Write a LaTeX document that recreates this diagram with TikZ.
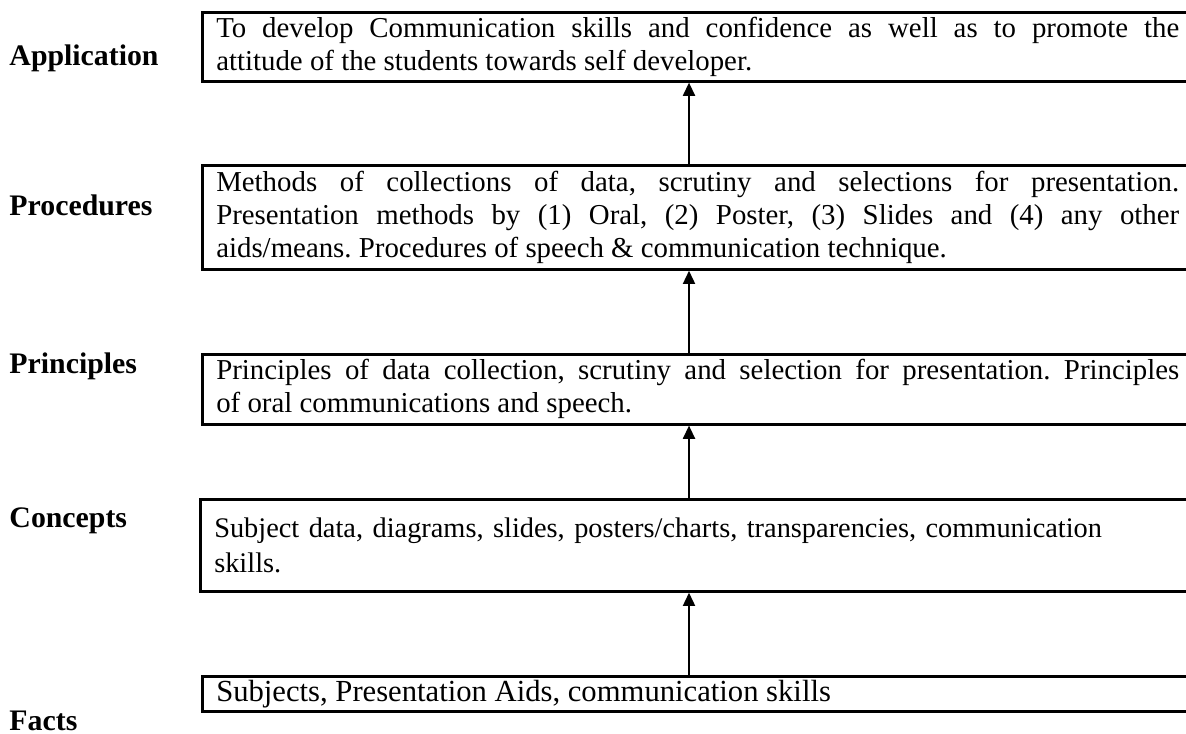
\documentclass[tikz,border=0pt]{standalone}
\usepackage{fontspec}
\setmainfont{Liberation Serif}
\usetikzlibrary{arrows.meta,positioning}
\tikzset{%
  levelbox/.style={rectangle,draw,line width=1.1pt,anchor=north west,text width=400.6pt,
    inner xsep=5.8pt,inner ysep=0pt,align=justify,font=\fontsize{12}{13.8}\selectfont},
  levellabel/.style={anchor=base west,inner sep=0pt,font=\fontsize{12.4}{14}\selectfont\bfseries},
  uparrow/.style={-{Triangle[width=5pt,length=5.5pt]},line width=0.8pt}
}
\frenchspacing
\begin{document}
\begin{tikzpicture}[x=0.416pt,y=-0.416pt]
\useasboundingbox (0,0) rectangle (1186,734);
\clip (0,0) rectangle (1186,734);

% ---- level labels ----
\node[levellabel] (lapp)  at (9,66)  {Application};
\node[levellabel] (lproc) at (9,216) {Procedures};
\node[levellabel] (lprin) at (9,374) {Principles};
\node[levellabel] (lcon)  at (9,527) {Concepts};
\node[levellabel] (lfact) at (9,730) {Facts};

% ---- boxes ----
\node[levelbox,minimum height=28.7pt] (app) at (201,11)
  {To develop Communication skills and confidence as well as to promote the\linebreak
   attitude of the students towards self developer.};
\node[levelbox,minimum height=43.3pt] (proc) at (201,164)
  {Methods of collections of data, scrutiny and selections for presentation.\linebreak
   Presentation methods by (1) Oral, (2) Poster, (3) Slides and (4) any other\linebreak
   aids/means. Procedures of speech \& communication technique.};
\node[levelbox,minimum height=29.1pt] (prin) at (201,353)
  {Principles of data collection, scrutiny and selection for presentation. Principles\linebreak
   of oral communications and speech.};
\node[levelbox,minimum height=38.3pt,align=left,font=\fontsize{11.8}{14.2}\selectfont] (con) at (199,498)
  {Subject data, diagrams, slides, posters/charts, transparencies, communication\\
   skills.};
\node[levelbox,minimum height=14.6pt,font=\fontsize{12.75}{14}\selectfont] (fact) at (201,675)
  {Subjects, Presentation Aids, communication skills};

% ---- arrows ----
\coordinate (ax) at (689,0);
\draw[uparrow] (proc.north -| ax) -- (app.south -| ax);
\draw[uparrow] (prin.north -| ax) -- (proc.south -| ax);
\draw[uparrow] (con.north -| ax)  -- (prin.south -| ax);
\draw[uparrow] (fact.north -| ax) -- (con.south -| ax);
\end{tikzpicture}
\end{document}
